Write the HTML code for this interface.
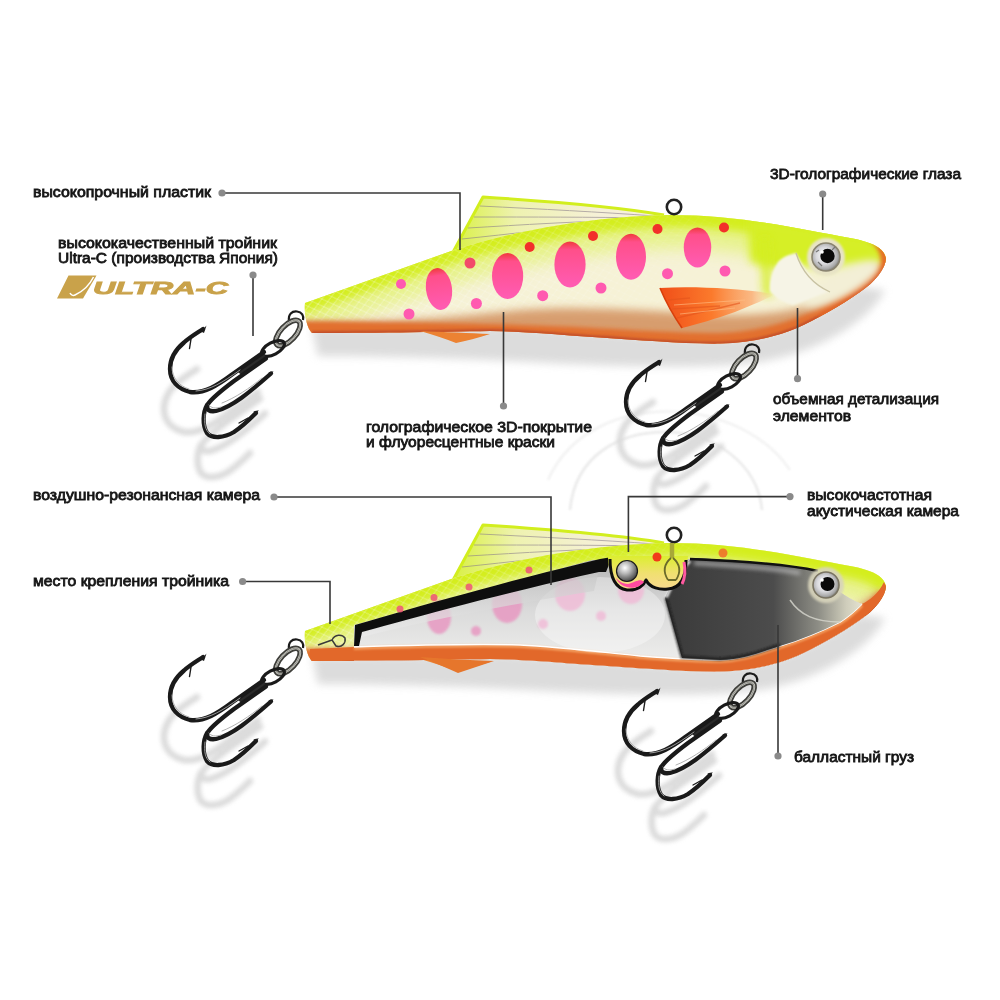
<!DOCTYPE html>
<html><head><meta charset="utf-8">
<style>
html,body{margin:0;padding:0;background:#fff;}
svg{display:block;}
.t{font-family:"Liberation Sans",sans-serif;font-size:15px;fill:#151515;stroke:#151515;stroke-width:0.8px;}
.ln{stroke:#383838;stroke-width:1.6;fill:none;}
.dot{fill:#8a8a8a;}
</style></head>
<body>
<svg width="1000" height="1000" viewBox="0 0 1000 1000">
<defs>
  <filter id="b1" filterUnits="userSpaceOnUse" x="-200" y="-200" width="1400" height="1400"><feGaussianBlur stdDeviation="1"/></filter>
  <filter id="b2" filterUnits="userSpaceOnUse" x="-200" y="-200" width="1400" height="1400"><feGaussianBlur stdDeviation="2"/></filter>
  <filter id="b3" filterUnits="userSpaceOnUse" x="-200" y="-200" width="1400" height="1400"><feGaussianBlur stdDeviation="3"/></filter>
  <filter id="b4" filterUnits="userSpaceOnUse" x="-200" y="-200" width="1400" height="1400"><feGaussianBlur stdDeviation="4"/></filter>
  <filter id="b8" filterUnits="userSpaceOnUse" x="-200" y="-200" width="1400" height="1400"><feGaussianBlur stdDeviation="8"/></filter>
  <path id="bodyp" d="M305,303 L454,250 C520,229 600,216 670,215 C740,215 800,229 850,238 C872,242 884,248 886,258 C886,268 875,282 860,292 C840,306 815,320 797,328 C775,337 750,343 720,343.6 C680,344 640,340 600,337.6 C560,335 520,331 490,331 C440,332 360,333 312,333 C306,327 304,312 305,303 Z"/>
  <pattern id="scales" width="10" height="8" patternUnits="userSpaceOnUse" patternTransform="rotate(-14)">
    <path d="M0,0 L10,8 M10,0 L0,8" stroke="#ffffff" stroke-width="1" fill="none"/>
  </pattern>
  <linearGradient id="scalefade" x1="300" y1="0" x2="760" y2="0" gradientUnits="userSpaceOnUse">
    <stop offset="0" stop-color="#fff" stop-opacity="1"/><stop offset="0.6" stop-color="#fff" stop-opacity="0.5"/><stop offset="1" stop-color="#fff" stop-opacity="0"/>
  </linearGradient>
  <mask id="scalemask"><rect x="290" y="190" width="600" height="170" fill="url(#scalefade)"/></mask>
  <clipPath id="bodyclip"><use href="#bodyp"/></clipPath>
  <clipPath id="body2clip"><use href="#bodyp" transform="translate(0,328)"/></clipPath>
  <linearGradient id="pinkg" x1="0" y1="0" x2="0" y2="1">
    <stop offset="0" stop-color="#f03a3a"/><stop offset="0.18" stop-color="#ff4f8a"/><stop offset="1" stop-color="#ff5cb4"/>
  </linearGradient>
  <linearGradient id="pfin" x1="0" y1="0" x2="1" y2="1">
    <stop offset="0" stop-color="#ff5a1a"/><stop offset="0.6" stop-color="#ff8a3a"/><stop offset="1" stop-color="#ffc890"/>
  </linearGradient>
  <radialGradient id="eyeg">
    <stop offset="0" stop-color="#fff"/><stop offset="0.6" stop-color="#d8d8d0"/><stop offset="1" stop-color="#8a8a80"/>
  </radialGradient>

  <!-- HOOK (absolute coords for hook 1) -->
  <g id="hookshadow" fill="none" stroke="#d9d9d9" stroke-width="6.5" stroke-linecap="round">
    <path d="M203,329 C197,333 190,337 184,342.5 C175,350 170,359 170,369 C170,381 178,389 190,392 C204,394 218,385 232,374.5 L264,352"/><path d="M266,358.5 L234,381 C222,390 212,398 208,404 C205,410 210,412 216,411 C232,407 250,392 271,373.5"/><path d="M207,405 C203,412 202,425 207,433 C212,439 224,438 234,432 C243,426 250,419 256,413"/>
  </g>
  <g id="hook">
    <!-- fish eyelet -->
    <path d="M289,321 C288,314 292,311 297,311.5 C302,312 304,316 303,320" fill="none" stroke="#1a1a1a" stroke-width="2.2"/>
    <!-- split ring -->
    <ellipse cx="288" cy="333" rx="16" ry="7.5" transform="rotate(-47 288 333)" fill="none" stroke="#3e3e3a" stroke-width="5.5"/>
    <ellipse cx="288" cy="333" rx="16" ry="7.5" transform="rotate(-47 288 333)" fill="none" stroke="#cfcfc8" stroke-width="2"/>
    <ellipse cx="288" cy="333" rx="16" ry="7.5" transform="rotate(-47 288 333)" fill="none" stroke="#6a6a64" stroke-width="0.6"/>
    <!-- hook eye -->
    <ellipse cx="273" cy="348.5" rx="12.5" ry="6" transform="rotate(-28 273 348.5)" fill="none" stroke="#1a1a1a" stroke-width="3.2"/>
    <path d="M264,352 L266,358.5 L242,375.5 L238,372 Z" fill="#2a2a2a"/>
    <g fill="none" stroke="#1a1a1a" stroke-linecap="round" stroke-linejoin="round" stroke-width="4.3">
      <path d="M203,329 C197,333 190,337 184,342.5 C175,350 170,359 170,369 C170,381 178,389 190,392 C204,394 218,385 232,374.5 L264,352"/><path d="M266,358.5 L234,381 C222,390 212,398 208,404 C205,410 210,412 216,411 C232,407 250,392 271,373.5"/><path d="M207,405 C203,412 202,425 207,433 C212,439 224,438 234,432 C243,426 250,419 256,413"/>
    </g>
    <g fill="#1c1c1c">
      <path d="M206.5,325.5 L201,331.5 L204,333 Z"/><path d="M273.5,371.2 L268.5,372.5 L270.5,376 Z"/><path d="M258.8,410.2 L253.5,411.5 L255.5,415 Z"/>
    </g>
    <g fill="none" stroke="#1c1c1c" stroke-width="1.4" stroke-linecap="round">
      <path d="M191,339 L189.5,348.5"/><path d="M248,418 L239,423"/>
    </g>
    <g fill="none" stroke="#a8a8a8" stroke-width="0.9" stroke-linecap="round">
      <path d="M172,367 C172,378 179,386 189,389"/>
      <path d="M205,414 C204,424 205,430 210,434"/>
      <path d="M209,405 C211,408 215,409 221,407"/>
      <path d="M196,391 C210,390 222,383 240,370"/>
      <path d="M222,403 C235,398 250,388 262,378"/>
    </g>
  </g>

  <g id="fishbase">
    <!-- shadow -->
    <path d="M312,328 C360,328 440,327 490,326 C520,326 560,330 600,332.6 C640,335 680,339 720,338.6 C750,338 775,332 797,323 C815,315 840,301 860,287 L885,290 C870,320 820,352 760,362 C700,370 600,366 490,360 C420,357 340,356 318,356 Z" fill="#d6d6d6" filter="url(#b4)" opacity="0.85"/>
    <!-- dorsal fin -->
    <defs><linearGradient id="fing" x1="0" y1="0" x2="1" y2="0">
      <stop offset="0" stop-color="#d8f040"/><stop offset="0.3" stop-color="#eef2b0"/><stop offset="0.7" stop-color="#f6f0d8"/><stop offset="1" stop-color="#f8f0dc"/>
    </linearGradient></defs>
    <path d="M452,254 L483,197 C560,202 620,207 664,215 C600,222 520,236 452,254 Z" fill="url(#fing)"/>
    <path d="M452,254 L483,197 C560,202 620,207 664,215" fill="none" stroke="#d2ee1e" stroke-width="3" stroke-linejoin="round"/>
    <g stroke="#8a7e8a" stroke-width="1" opacity="0.6" fill="none">
      <path d="M480,206 C540,209 600,212 655,216"/><path d="M474,217 C530,217 590,217 650,218"/>
      <path d="M468,228 C520,225 580,221 640,220"/><path d="M462,239 C510,234 560,228 620,222"/>
    </g>
    <!-- body -->
    <use href="#bodyp" fill="#f6f2d6"/>
    <g clip-path="url(#bodyclip)">
      <path d="M290,310 L455,255 C520,236 600,222 670,220 C740,220 800,234 850,243 C872,247 890,255 895,268" stroke="#e4f27e" stroke-width="56" fill="none" filter="url(#b8)" opacity="0.85"/>
      <path d="M290,300 L455,245 C520,226 600,212 670,210 C740,210 800,224 850,233 C872,237 890,245 895,258" stroke="#d4ee1e" stroke-width="34" fill="none" filter="url(#b4)"/>
      <rect x="290" y="190" width="600" height="170" fill="url(#scales)" mask="url(#scalemask)" opacity="0.4"/>
      <path d="M290,322 C380,323 450,318 520,310 C580,306 640,310 700,314 C740,316 770,315 800,308 C830,297 855,282 880,262 L900,400 L290,400 Z" fill="#d49464" filter="url(#b4)" opacity="0.9"/>
      <path d="M290,321 C380,322 450,323 520,325 C600,327 660,333 720,333 C760,331 790,322 815,310 C845,295 865,280 880,262 L900,400 L290,400 Z" fill="#e2702e" filter="url(#b2)"/>
      <path d="M312,333 C360,333 440,332 490,331 C520,331 560,335 600,337.6 C640,340 680,344 720,343.6 C750,343 775,337 797,328 C815,320 840,306 860,292 C875,282 886,268 886,258" fill="none" stroke="#c4502a" stroke-width="4" filter="url(#b1)"/>
    </g>
    <!-- ventral fin -->
    <path d="M420,331 C445,332 470,333 490,334 C478,338 466,341 456,343 C446,339 434,335 420,331 Z" fill="#ec8232"/>
    <!-- line tie -->
    <circle cx="674" cy="207" r="7.2" fill="none" stroke="#222" stroke-width="2.6"/>
  </g>
</defs>
<rect width="1000" height="1000" fill="#fff"/>

<!-- background reflections -->
<g fill="none" stroke="#e4e4e4" stroke-width="2.5" filter="url(#b1)" opacity="0.8">
  <path d="M570,510 C575,455 620,432 665,432 C715,432 758,465 762,510"/>
  <path d="M548,480 C570,430 625,408 680,412 C730,416 770,440 790,470" opacity="0.6"/>
</g>
<!-- hook shadows -->
<g filter="url(#b2)" opacity="0.95">
<use href="#hookshadow" transform="translate(-6,40)"/>
<use href="#hookshadow" transform="translate(450,73)"/>
<use href="#hookshadow" transform="translate(-6,368)"/>
<use href="#hookshadow" transform="translate(448,402)"/>
</g>

<!-- FISH 1 -->
<g id="fish1">
  <use href="#fishbase"/>
  <g>
    <ellipse cx="439" cy="289" rx="13" ry="21" fill="url(#pinkg)" transform="rotate(-8 439 289)"/>
    <ellipse cx="507.6" cy="276" rx="15.6" ry="23" fill="url(#pinkg)"/>
    <ellipse cx="570" cy="264.5" rx="15.6" ry="23" fill="url(#pinkg)"/>
    <ellipse cx="631" cy="256.7" rx="15" ry="23" fill="url(#pinkg)"/>
    <ellipse cx="697.5" cy="247.5" rx="13.75" ry="20" fill="url(#pinkg)"/>
    <g fill="#f2302a">
      <circle cx="470" cy="263" r="5.5" fill="#f24a6a"/>
      <circle cx="529.7" cy="247" r="5"/><circle cx="593" cy="236" r="5"/>
      <circle cx="657.5" cy="229" r="5"/><circle cx="724" cy="227.5" r="5"/>
    </g>
    <g fill="#ff5ab0">
      <circle cx="401" cy="284" r="5"/><circle cx="409" cy="314" r="5.5"/>
      <circle cx="476.4" cy="303.5" r="5.5"/><circle cx="542.7" cy="295.7" r="5.5"/>
      <circle cx="601" cy="288" r="5.5"/><circle cx="667.5" cy="273.7" r="5.5"/>
      <circle cx="725" cy="271" r="5.5"/>
    </g>
  </g>
  <!-- head cheek -->
  <g clip-path="url(#bodyclip)">
    <path d="M748,218 C790,224 830,232 870,240 L892,262 C850,265 810,262 780,270 L750,262 Z" fill="#d6ef26" filter="url(#b4)"/>
    <ellipse cx="842" cy="284" rx="44" ry="13" transform="rotate(-28 842 284)" fill="#f3efd6" filter="url(#b4)"/>
    <path d="M872,236 C884,246 888,258 884,272 C876,290 850,302 820,318" fill="none" stroke="#e66a28" stroke-width="9" filter="url(#b2)"/>
    <path d="M764,238 C766,255 766,275 768,296" stroke="#d4ee22" stroke-width="9" fill="none" filter="url(#b4)" opacity="0.9"/>
  </g>
  <path d="M778,262 C772,270 769,282 770,291 C775,298 785,303 793,305 C805,301 815,297 828,292 C815,285 805,270 796,253 C790,254 782,257 778,262 Z" fill="#f6f4e6" filter="url(#b1)"/>
  <path d="M796,253 C800,266 808,282 830,292" fill="none" stroke="#c8c2a2" stroke-width="1.3"/>
  <!-- pectoral fin -->
  <defs><linearGradient id="pfin2" x1="660" y1="0" x2="775" y2="0" gradientUnits="userSpaceOnUse">
    <stop offset="0" stop-color="#f04e18"/><stop offset="0.45" stop-color="#fb7a2c"/><stop offset="0.8" stop-color="#fca060" stop-opacity="0.7"/><stop offset="1" stop-color="#fcc890" stop-opacity="0"/>
  </linearGradient></defs>
  <path d="M660,288 C700,286 740,289 775,294 C765,300 750,306 735,312 C715,319 698,324 682,328 C673,315 665,300 660,288 Z" fill="url(#pfin2)"/>
  <g stroke="#e4541c" stroke-width="1.3" opacity="0.6" fill="none">
    <path d="M668,300 L690,298"/><path d="M672,309 L720,306"/><path d="M677,318 L740,303"/>
  </g>
  <g stroke="#ffc088" stroke-width="1.2" opacity="0.6" fill="none">
    <path d="M674,305 L745,300"/><path d="M680,314 L735,308"/>
  </g>
  <path d="M660,288 C665,300 673,315 682,328" fill="none" stroke="#d8400c" stroke-width="1.6"/>
  <!-- eye -->
  <defs><radialGradient id="iris" cx="0.45" cy="0.45" r="0.6">
    <stop offset="0" stop-color="#ffffff"/><stop offset="0.5" stop-color="#d8d8dc"/><stop offset="0.8" stop-color="#a8a8a8"/><stop offset="1" stop-color="#6a6a60"/>
  </radialGradient></defs>
  <circle cx="826" cy="257" r="19" fill="#e8e4c6" filter="url(#b1)"/>
  <circle cx="826" cy="257" r="14" fill="url(#iris)" stroke="#8a8470" stroke-width="1.6"/>
  <circle cx="827.5" cy="256" r="7.2" fill="#0a0a0a"/>
  <path d="M818,262 L822,266 M832,250 L835,247 M816,252 L819,250" stroke="#777" stroke-width="1.2"/>
  <circle cx="822" cy="252" r="1.8" fill="#fff"/>
</g>

<!-- FISH 2 -->
<defs>
  <linearGradient id="wing" x1="0" y1="0" x2="1" y2="0">
    <stop offset="0" stop-color="#3a3a3a"/><stop offset="0.55" stop-color="#4c4c4c"/><stop offset="0.78" stop-color="#8e8e86"/><stop offset="0.92" stop-color="#cfcdbb"/><stop offset="1" stop-color="#e4e2d0"/>
  </linearGradient>
  <linearGradient id="winint" x1="0" y1="0" x2="0" y2="1">
    <stop offset="0" stop-color="#b4b4b4"/><stop offset="0.45" stop-color="#dadada"/><stop offset="1" stop-color="#f2f2f0"/>
  </linearGradient>
  <linearGradient id="chamb" x1="0" y1="0" x2="0" y2="1">
    <stop offset="0" stop-color="#dcee30"/><stop offset="0.5" stop-color="#f0e070"/><stop offset="1" stop-color="#f8d890"/>
  </linearGradient>
  <linearGradient id="plateg" x1="0" y1="0" x2="0" y2="1">
    <stop offset="0" stop-color="#c4c4c4"/><stop offset="1" stop-color="#ececec"/>
  </linearGradient>
  <radialGradient id="ball" cx="0.4" cy="0.35" r="0.7">
    <stop offset="0" stop-color="#ffffff"/><stop offset="0.4" stop-color="#b8b8b8"/><stop offset="1" stop-color="#3a3a3a"/>
  </radialGradient>
</defs>
<g id="fish2">
  <use href="#fishbase" transform="translate(0,328)"/>
  <g clip-path="url(#body2clip)">
  <!-- window interior -->
  <path d="M354,625 L592,560 L690,559 C740,562 790,566 815,571 C830,585 845,598 862,604 L880,672 L354,672 Z" fill="url(#winint)"/>
  <path d="M310,661 C360,661 440,660 490,659 C520,659 560,663 600,665.6 C640,668 680,672 720,671.6 C750,671 775,665 797,656 C815,648 840,634 860,620 C875,610 886,596 886,586 L884,582 C878,594 870,600 862,604 C856,610 850,616 840,622 C820,632 800,640 780,646 C760,652 745,659 720,660 C700,660 680,659 640,656 C600,652 560,647 520,645 C480,644 420,645 354,647 L310,649 Z" fill="#e2682a"/>
  <path d="M354,647 C420,645 480,644 520,645 C560,647 600,652 640,656 C680,659 700,660 720,660 C745,659 760,652 780,646 C800,640 820,632 840,622 C850,616 856,610 862,604" fill="none" stroke="#f6a868" stroke-width="2.5" transform="translate(0,1.5)" filter="url(#b1)"/>
  <path d="M354,647 C420,645 480,644 520,645 C560,647 600,652 640,656 C680,659 700,660 720,660 C745,659 760,652 780,646 C800,640 820,632 840,622 C850,616 856,610 862,604" fill="none" stroke="#ffffff" stroke-width="1.5"/>
  <!-- faint pink spots -->
  <g fill="#e894c0" opacity="0.8" filter="url(#b1)">
    <ellipse cx="439" cy="617" rx="12" ry="17"/><ellipse cx="507" cy="604" rx="15" ry="19"/>
    <ellipse cx="570" cy="594" rx="15" ry="17"/><ellipse cx="631" cy="590" rx="13" ry="14"/>
    <circle cx="476" cy="631" r="5"/><circle cx="543" cy="624" r="5"/><circle cx="601" cy="616" r="5"/>
  </g>
  <!-- bulb outline -->
  <ellipse cx="600" cy="615" rx="65" ry="38" fill="#ffffff" opacity="0.35"/>
  <!-- white plate under black band -->
  <path d="M362,633 C420,615 500,592 599,570 L594,591 C500,606 420,622 358,638 Z" fill="url(#plateg)" opacity="0.7"/>
  <!-- black top band -->
  <path d="M355,625 C420,606 500,583 600,559 L612,557 L606,572 L599,572 C500,594 420,616 362,632 L359,646 L354,646 Z" fill="#0e0e0e"/>
  <!-- weight -->
  <path d="M696,558 C745,561 790,565 815,571 C830,585 845,598 862,604 C850,616 840,622 840,622 C820,632 800,640 780,646 C760,652 745,659 720,660 L682,658 L665,598 C672,584 680,566 690,560 Z" fill="url(#wing)"/>
  <path d="M690,561 C680,570 672,584 666,598" fill="none" stroke="#e8e8e8" stroke-width="3" filter="url(#b1)"/>
  <path d="M694,563 C745,566 780,569 800,573" fill="none" stroke="#bdbdbd" stroke-width="4" filter="url(#b2)" opacity="0.8"/>
  <path d="M690,559 C745,561 790,565 818,571" fill="none" stroke="#111" stroke-width="2.5"/>
  <path d="M666,598 L682,657 L720,659 C745,658 760,651 780,645" fill="none" stroke="#1a1a1a" stroke-width="3" filter="url(#b1)" opacity="0.8"/>
  <path d="M790,600 C800,615 815,622 840,622" fill="none" stroke="#d8d8d0" stroke-width="1.5" opacity="0.8"/>
  </g>
  <path d="M420,657 C445,659 470,660 494,661 C482,665 470,669 458,673 C446,668 434,662 420,657 Z" fill="#e6762c"/>
  <!-- acoustic chamber lobes -->
  <path d="M608,556 C608,570 612,588 627,590 C638,591 644,585 646,580 C650,588 660,590 668,589 C682,588 686,576 688,556 Z" fill="url(#chamb)"/>
  <path d="M610,559 C610,570 612,588 627,590 C638,591 644,585 646,580 C650,588 660,590 668,589 C682,588 686,576 686,560" fill="none" stroke="#0e0e0e" stroke-width="3" stroke-linejoin="round"/>
  <path d="M616,578 C620,588 636,592 644,582 C640,578 636,582 628,584 C622,584 618,580 616,578 Z" fill="#ff4aa0"/>
  <circle cx="627" cy="571" r="10.5" fill="url(#ball)" stroke="#1a1a1a" stroke-width="1.2"/>
  <path d="M684,562 C686,572 684,580 682,584" fill="none" stroke="#ff5aa0" stroke-width="3"/>
  <circle cx="657" cy="557" r="4.5" fill="#f23a1a"/>
  <circle cx="723" cy="553" r="4.5" fill="#f2602a" opacity="0.8"/>
  <!-- line tie wire -->
  <path d="M672,543 L672,558" stroke="#a8a838" stroke-width="4.5"/>
  <path d="M671,558 C664,564 663,572 668,580 M673,558 C680,564 681,572 676,580 M668,580 L676,580" fill="none" stroke="#6a6a2a" stroke-width="1.8"/>
  <!-- eye -->
  <circle cx="826" cy="585" r="18" fill="#d8d4bc" opacity="0.9" filter="url(#b1)"/>
  <circle cx="826" cy="585" r="13" fill="url(#iris)" stroke="#7a7462" stroke-width="1.6"/>
  <circle cx="827.5" cy="584" r="7" fill="#0a0a0a"/>
  <circle cx="822" cy="580" r="1.8" fill="#fff"/>
  <!-- attachment wire at tail -->
  <path d="M318,645 L332,640 M332,640 C335,634 342,634 345,638 C346,643 342,648 336,646 Z" fill="none" stroke="#3a3a3a" stroke-width="1.5"/>
  <!-- small red spots on rim -->
  <g fill="#f04a7a" opacity="0.8">
    <circle cx="400" cy="609" r="3.5"/><circle cx="434" cy="597.5" r="3.5"/><circle cx="469" cy="587" r="3.5"/><circle cx="529" cy="570" r="3.5"/>
  </g>
</g>

<!-- hooks -->
<use href="#hook"/>
<use href="#hook" transform="translate(456,33)"/>
<use href="#hook" transform="translate(0,328)"/>
<use href="#hook" transform="translate(454,362)"/>

<!-- ULTRA-C logo -->
<g fill="#c9a24a">
  <path d="M57,298.5 L68.5,275.5 L96.5,275.5 L83,298.5 Z"/>
  <path d="M93.5,277 C90,284 84,291 75,295 C73,296 71,295 70,293" fill="none" stroke="#fff" stroke-width="1.5"/>
  <text x="93" y="294" font-family="Liberation Sans" font-weight="bold" font-style="italic" font-size="17" textLength="135" lengthAdjust="spacingAndGlyphs" stroke="#c9a24a" stroke-width="0.9">ULTRA-C</text>
</g>

<!-- labels -->
<g class="labels">
<text class="t" x="33" y="196.5" textLength="178" lengthAdjust="spacingAndGlyphs">высокопрочный пластик</text>
<text class="t" x="58" y="247.5" textLength="219" lengthAdjust="spacingAndGlyphs">высококачественный тройник</text>
<text class="t" x="58" y="263" textLength="220" lengthAdjust="spacingAndGlyphs">Ultra-C (производства Япония)</text>
<text class="t" x="770" y="179.4" textLength="191" lengthAdjust="spacingAndGlyphs">3D-голографические глаза</text>
<text class="t" x="366" y="431.6" textLength="226" lengthAdjust="spacingAndGlyphs">голографическое 3D-покрытие</text>
<text class="t" x="366" y="447.2" textLength="189" lengthAdjust="spacingAndGlyphs">и флуоресцентные краски</text>
<text class="t" x="773" y="404" textLength="166" lengthAdjust="spacingAndGlyphs">объемная детализация</text>
<text class="t" x="773" y="420.5" textLength="78" lengthAdjust="spacingAndGlyphs">элементов</text>
<text class="t" x="33" y="500.2" textLength="227" lengthAdjust="spacingAndGlyphs">воздушно-резонансная камера</text>
<text class="t" x="33" y="585.6" textLength="196" lengthAdjust="spacingAndGlyphs">место крепления тройника</text>
<text class="t" x="807" y="499.8" textLength="125" lengthAdjust="spacingAndGlyphs">высокочастотная</text>
<text class="t" x="807" y="516" textLength="152" lengthAdjust="spacingAndGlyphs">акустическая камера</text>
<text class="t" x="794" y="762.4" textLength="120" lengthAdjust="spacingAndGlyphs">балластный груз</text>
</g>

<!-- leader lines -->
<g>
<path class="ln" d="M222,193 H460 V250"/><circle class="dot" cx="222" cy="193" r="3.6"/>
<path class="ln" d="M253,275 V336"/><circle class="dot" cx="253" cy="275" r="3.6"/>
<path class="ln" d="M822.7,194 V230"/><circle class="dot" cx="822.7" cy="194" r="3.6"/>
<path class="ln" d="M503.5,406 V312"/><circle class="dot" cx="503.5" cy="406" r="3.6"/>
<path class="ln" d="M797.5,378.7 V308"/><circle class="dot" cx="797.5" cy="378.7" r="3.6"/>
<path class="ln" d="M274,497 H551 V585"/><circle class="dot" cx="274" cy="497" r="3.6"/>
<path class="ln" d="M242.6,581.5 H330 V624"/><circle class="dot" cx="242.6" cy="581.5" r="3.6"/>
<path class="ln" d="M790,496.6 H628.4 V552"/><circle class="dot" cx="790" cy="496.6" r="3.6"/>
<path class="ln" d="M778,756 V625"/><circle class="dot" cx="778" cy="756" r="3.6"/>
</g>
</svg>
</body></html>
